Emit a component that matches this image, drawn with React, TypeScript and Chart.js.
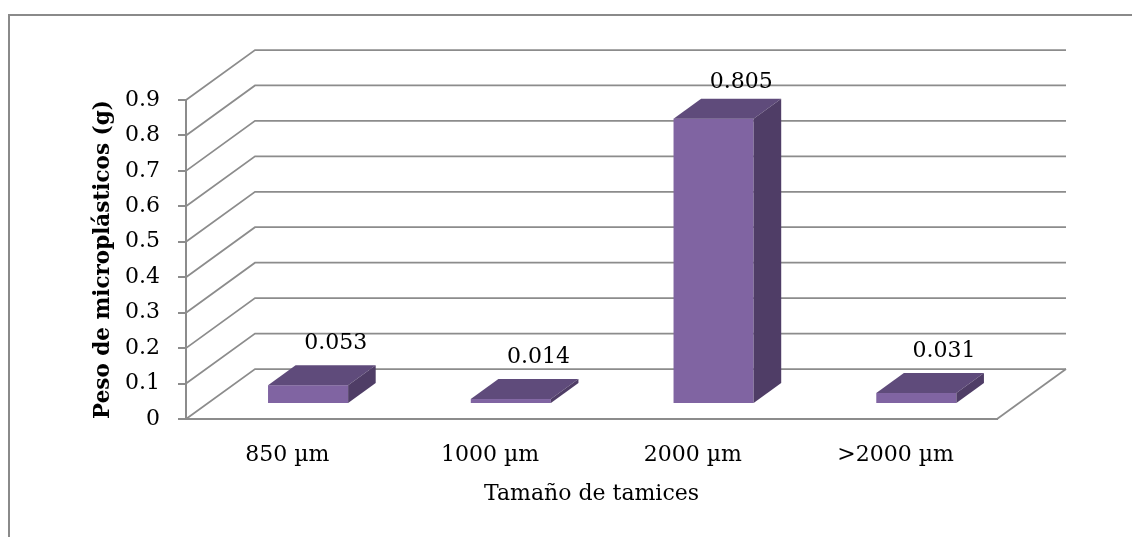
import React, { useEffect, useRef } from "react";
import { Chart, registerables } from "chart.js";

Chart.register(...registerables);

// Sieve sizes and microplastic weight retained on each (g)
const categories = ["850 µm", "1000 µm", "2000 µm", ">2000 µm"];
const weights = [0.053, 0.014, 0.805, 0.031];
const valueLabels = ["0.053", "0.014", "0.805", "0.031"];
const yTickValues = [0, 0.1, 0.2, 0.3, 0.4, 0.5, 0.6, 0.7, 0.8, 0.9];
const yTickLabels = ["0", "0.1", "0.2", "0.3", "0.4", "0.5", "0.6", "0.7", "0.8", "0.9"];

const xTitle = "Tamaño de tamices";
const yTitle = "Peso de microplásticos (g)";

// Oblique depth of the floor / walls, in pixels
const DEPTH_X = 69;
const DEPTH_Y = 50;
// Bars sit between these fractions of the floor depth
const BAR_FRONT = 0.3;
const BAR_BACK = 0.7;

const FONT = "'DejaVu Serif', serif";
const GRID = "#8c8c8c";
const FRAME = "#8a8a8a";
const FACE_FRONT = "#8064a2";
const FACE_TOP = "#5f4b7b";
const FACE_SIDE = "#4f3d66";

const depthPlugin = {
  id: "depth3d",
  beforeDraw(chart: any) {
    const { ctx } = chart;
    ctx.save();
    ctx.strokeStyle = FRAME;
    ctx.lineWidth = 2;
    ctx.strokeRect(9, 15, chart.width + 100, chart.height + 100);
    ctx.restore();
  },
  beforeDatasetsDraw(chart: any) {
    const { ctx, chartArea } = chart;
    const yScale = chart.scales.y;
    ctx.save();
    ctx.strokeStyle = GRID;
    ctx.lineWidth = 1.75;
    for (const t of yScale.ticks) {
      const py = yScale.getPixelForValue(t.value);
      ctx.beginPath();
      ctx.moveTo(chartArea.left, py);
      ctx.lineTo(chartArea.left + DEPTH_X, py - DEPTH_Y);
      ctx.lineTo(chartArea.right + DEPTH_X, py - DEPTH_Y);
      ctx.stroke();
    }
    const base = yScale.getPixelForValue(0);
    ctx.beginPath();
    ctx.moveTo(chartArea.right, base);
    ctx.lineTo(chartArea.right + DEPTH_X, base - DEPTH_Y);
    ctx.stroke();
    ctx.restore();
  },
  afterDatasetsDraw(chart: any) {
    const { ctx, chartArea } = chart;
    const meta = chart.getDatasetMeta(0);
    const fx = BAR_FRONT * DEPTH_X;
    const fy = BAR_FRONT * DEPTH_Y;
    const dx = (BAR_BACK - BAR_FRONT) * DEPTH_X;
    const dy = (BAR_BACK - BAR_FRONT) * DEPTH_Y;
    ctx.save();
    meta.data.forEach((el: any, i: number) => {
      const { x, y, base, width } = el.getProps(["x", "y", "base", "width"], true);
      const left = x - width / 2 + fx;
      const right = left + width;
      const top = y - fy;
      const bottom = base - fy;

      // front face
      ctx.fillStyle = FACE_FRONT;
      ctx.fillRect(left, top, width, bottom - top);

      // top face
      ctx.fillStyle = FACE_TOP;
      ctx.beginPath();
      ctx.moveTo(left, top);
      ctx.lineTo(right, top);
      ctx.lineTo(right + dx, top - dy);
      ctx.lineTo(left + dx, top - dy);
      ctx.closePath();
      ctx.fill();

      // side face
      ctx.fillStyle = FACE_SIDE;
      ctx.beginPath();
      ctx.moveTo(right, top);
      ctx.lineTo(right + dx, top - dy);
      ctx.lineTo(right + dx, bottom - dy);
      ctx.lineTo(right, bottom);
      ctx.closePath();
      ctx.fill();

      // value label above the back edge of the top face
      const lx = left + width / 2 + dx;
      const ly = Math.max(top - dy - 22, chartArea.top - 18);
      ctx.fillStyle = "#000";
      ctx.font = `22px ${FONT}`;
      ctx.textAlign = "center";
      ctx.textBaseline = "middle";
      ctx.fillText(valueLabels[i], lx, ly);
    });
    ctx.restore();
  },
};

export default function App() {
  const canvasRef = useRef<HTMLCanvasElement | null>(null);

  useEffect(() => {
    const canvas = canvasRef.current;
    if (!canvas) return;
    const chart = new Chart(canvas, {
      type: "bar",
      data: {
        labels: categories,
        datasets: [
          {
            data: weights,
            backgroundColor: "rgba(0,0,0,0)",
            borderWidth: 0,
            categoryPercentage: 1,
            barPercentage: 0.395,
          },
        ],
      },
      options: {
        animation: false,
        responsive: true,
        maintainAspectRatio: false,
        devicePixelRatio: 1,
        layout: { padding: { left: 0, top: 100, right: 135, bottom: 0 } },
        plugins: {
          legend: { display: false },
          tooltip: { enabled: false },
        },
        scales: {
          x: {
            type: "category",
            grid: { display: false, drawTicks: false },
            border: { display: true, color: GRID, width: 2 },
            ticks: {
              color: "#000",
              padding: 23,
              font: { family: FONT, size: 22 },
            },
            title: {
              display: true,
              text: xTitle,
              color: "#000",
              font: { family: FONT, size: 22 },
              padding: { top: 0, bottom: 30 },
            },
            afterFit: (s: any) => {
              s.height = 118;
            },
          },
          y: {
            min: 0,
            max: 0.9,
            afterBuildTicks: (s: any) => {
              s.ticks = yTickValues.map((v) => ({ value: v }));
            },
            grid: {
              display: true,
              drawOnChartArea: false,
              drawTicks: true,
              tickLength: 8,
              color: GRID,
              lineWidth: 2,
            },
            border: { display: true, color: GRID, width: 2 },
            ticks: {
              color: "#000",
              padding: 18,
              font: { family: FONT, size: 22 },
              callback: (_v: any, i: number) => yTickLabels[i],
            },
            title: {
              display: true,
              text: yTitle,
              color: "#000",
              font: { family: FONT, size: 21.5, weight: "bold" },
              padding: { top: 91, bottom: 0 },
            },
            afterFit: (s: any) => {
              s.width = 186;
            },
          },
        },
      },
      plugins: [depthPlugin],
    });
    return () => chart.destroy();
  }, []);

  return (
    <div style={{ position: "absolute", left: 0, top: 0, width: 1132, height: 537 }}>
      <canvas ref={canvasRef} />
    </div>
  );
}
